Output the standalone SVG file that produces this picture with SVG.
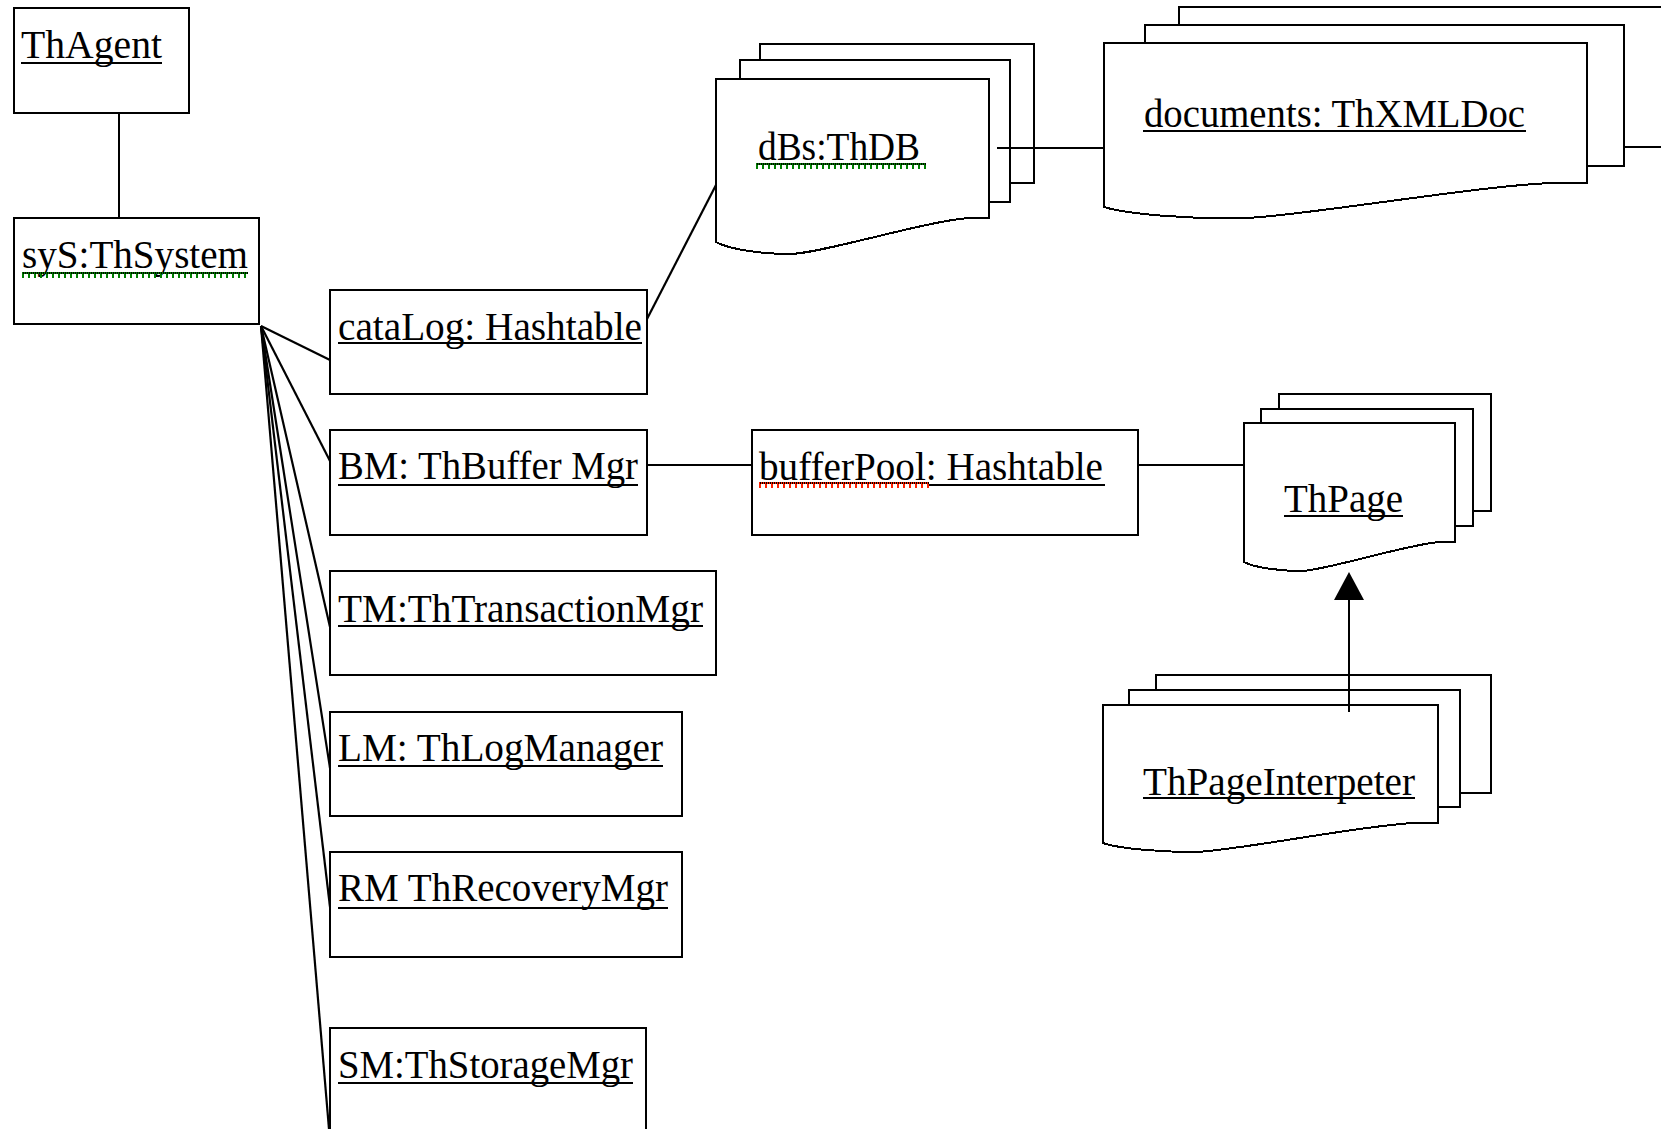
<svg xmlns="http://www.w3.org/2000/svg" width="1661" height="1129" viewBox="0 0 1661 1129">
  <style>
    .box { fill: #fff; stroke: #000; stroke-width: 2; shape-rendering: crispEdges; }
    .lbl { font-family: "Liberation Serif", "Times New Roman", serif; font-size: 40px; fill: #000; }
    .ul { stroke: #000; stroke-width: 2; shape-rendering: crispEdges; }
    .edge { fill: none; stroke: #000; stroke-width: 2; shape-rendering: crispEdges; }
    .edge.diag { stroke-width: 2.2; shape-rendering: auto; }
    .sq-g { stroke: #008000; stroke-width: 2; stroke-dasharray: 1 1; shape-rendering: crispEdges; }
    .tick-g { stroke: #008000; stroke-width: 4; stroke-dasharray: 2 4; shape-rendering: crispEdges; }
    .sq-r { stroke: #ff2000; stroke-width: 2; stroke-dasharray: 1 1; shape-rendering: crispEdges; }
    .tick-r { stroke: #ff2000; stroke-width: 4; stroke-dasharray: 2 4; shape-rendering: crispEdges; }
  </style>
  <defs>
    <!-- filled generalization head; base sits on the line end, tip points along the line -->
    <marker id="gen" viewBox="0 0 28 30" refX="0" refY="15" markerWidth="28" markerHeight="30" markerUnits="userSpaceOnUse" orient="auto">
      <path d="M0,0 L28,15 L0,30 Z" fill="#000"/>
    </marker>
  </defs>

  <rect width="1661" height="1129" fill="#fff"/>

  <!-- object nodes -->
  <g id="n-thagent">
    <rect class="box" x="14" y="8" width="175" height="105"/>
    <text class="lbl" x="21" y="58" textLength="141" lengthAdjust="spacingAndGlyphs">ThAgent</text>
    <line class="ul" x1="21" y1="63" x2="162" y2="63"/>
  </g>

  <g id="n-system">
    <rect class="box" x="14" y="218" width="245" height="106"/>
    <text class="lbl" x="22" y="268" textLength="226" lengthAdjust="spacingAndGlyphs">syS:ThSystem</text>
    <line class="ul" x1="22" y1="273" x2="248" y2="273"/>
    <line class="sq-g" x1="22" y1="273" x2="248" y2="273"/>
    <line class="tick-g" x1="22" y1="276" x2="248" y2="276"/>
  </g>

  <g id="n-catalog">
    <rect class="box" x="330" y="290" width="317" height="104"/>
    <text class="lbl" x="338" y="340" textLength="304" lengthAdjust="spacingAndGlyphs">cataLog: Hashtable</text>
    <line class="ul" x1="338" y1="343" x2="642" y2="343"/>
  </g>

  <g id="n-bm">
    <rect class="box" x="330" y="430" width="317" height="105"/>
    <text class="lbl" x="338" y="479" textLength="300" lengthAdjust="spacingAndGlyphs">BM: ThBuffer Mgr</text>
    <line class="ul" x1="338" y1="485" x2="638" y2="485"/>
  </g>

  <g id="n-tm">
    <rect class="box" x="330" y="571" width="386" height="104"/>
    <text class="lbl" x="338" y="622" textLength="365" lengthAdjust="spacingAndGlyphs">TM:ThTransactionMgr</text>
    <line class="ul" x1="338" y1="626" x2="703" y2="626"/>
  </g>

  <g id="n-lm">
    <rect class="box" x="330" y="712" width="352" height="104"/>
    <text class="lbl" x="338" y="761" textLength="325" lengthAdjust="spacingAndGlyphs">LM: ThLogManager</text>
    <line class="ul" x1="338" y1="766" x2="663" y2="766"/>
  </g>

  <g id="n-rm">
    <rect class="box" x="330" y="852" width="352" height="105"/>
    <text class="lbl" x="338" y="901" textLength="330" lengthAdjust="spacingAndGlyphs">RM ThRecoveryMgr</text>
    <line class="ul" x1="338" y1="908" x2="668" y2="908"/>
  </g>

  <g id="n-sm">
    <rect class="box" x="330" y="1028" width="316" height="130"/>
    <text class="lbl" x="338" y="1078" textLength="295" lengthAdjust="spacingAndGlyphs">SM:ThStorageMgr</text>
    <line class="ul" x1="338" y1="1083" x2="633" y2="1083"/>
  </g>

  <g id="n-dbs">
    <rect class="box" x="760" y="44" width="274" height="139"/>
    <rect class="box" x="740" y="60" width="270" height="142"/>
    <path class="box" d="M716,79 H989 V218 H970 C929,220 820,254 790,254 C765,254 730,250 716,242 Z"/>
    <text class="lbl" x="758" y="160" textLength="162" lengthAdjust="spacingAndGlyphs">dBs:ThDB</text>
    <line class="ul" x1="756" y1="164" x2="926" y2="164"/>
    <line class="sq-g" x1="756" y1="164" x2="926" y2="164"/>
    <line class="tick-g" x1="756" y1="167" x2="926" y2="167"/>
  </g>

  <g id="n-documents">
    <rect class="box" x="1179" y="7" width="600" height="140"/>
    <rect class="box" x="1145" y="25" width="479" height="141"/>
    <path class="box" d="M1104,43 H1587 V183 H1553 C1481,185 1288,218.5 1234,218.5 C1191,218.5 1128,214.7 1104,207 Z"/>
    <text class="lbl" x="1144" y="127" textLength="381" lengthAdjust="spacingAndGlyphs">documents: ThXMLDoc</text>
    <line class="ul" x1="1143" y1="131" x2="1526" y2="131"/>
  </g>

  <g id="n-bufferpool">
    <rect class="box" x="752" y="430" width="386" height="105"/>
    <text class="lbl" x="759" y="480" textLength="344" lengthAdjust="spacingAndGlyphs">bufferPool: Hashtable</text>
    <line class="ul" x1="929" y1="485" x2="1105" y2="485"/>
    <line class="ul" x1="759" y1="483" x2="929" y2="483"/>
    <line class="sq-r" x1="759" y1="483" x2="929" y2="483"/>
    <line class="tick-r" x1="759" y1="486" x2="929" y2="486"/>
  </g>

  <g id="n-thpage">
    <rect class="box" x="1279" y="394" width="212" height="117"/>
    <rect class="box" x="1261" y="409" width="212" height="117"/>
    <path class="box" d="M1244,423 H1455 V542 H1440 C1409,543.7 1324,571 1301,571 C1282,571 1255,568 1244,562 Z"/>
    <text class="lbl" x="1284" y="512" textLength="119" lengthAdjust="spacingAndGlyphs">ThPage</text>
    <line class="ul" x1="1284" y1="516" x2="1403" y2="516"/>
  </g>

  <g id="n-interpreter">
    <rect class="box" x="1156" y="675" width="335" height="118"/>
    <rect class="box" x="1129" y="690" width="331" height="117"/>
    <path class="box" d="M1103,705 H1438 V823 H1415 C1364,824.7 1230,852 1193.5,852 C1163,852 1120,849 1103,843 Z"/>
    <text class="lbl" x="1143" y="795" textLength="272" lengthAdjust="spacingAndGlyphs">ThPageInterpeter</text>
    <line class="ul" x1="1143" y1="798" x2="1415" y2="798"/>
  </g>

  <!-- links between objects -->
  <g id="connectors">
    <path class="edge" d="M119,113 V218"/>
    <path class="edge diag" d="M261,326 L330,360"/>
    <path class="edge diag" d="M261,326 L330,461"/>
    <path class="edge diag" d="M261,326 L330,627"/>
    <path class="edge diag" d="M261,326 L330,768"/>
    <path class="edge diag" d="M261,326 L330,907"/>
    <path class="edge diag" d="M261,326 L329,1129"/>
    <path class="edge diag" d="M647,319 L716,185"/>
    <path class="edge" d="M997,148 H1104"/>
    <path class="edge" d="M647,465 H752"/>
    <path class="edge" d="M1138,465 H1244"/>
    <path class="edge" d="M1349,712 V600" marker-end="url(#gen)"/>
  </g>
</svg>
